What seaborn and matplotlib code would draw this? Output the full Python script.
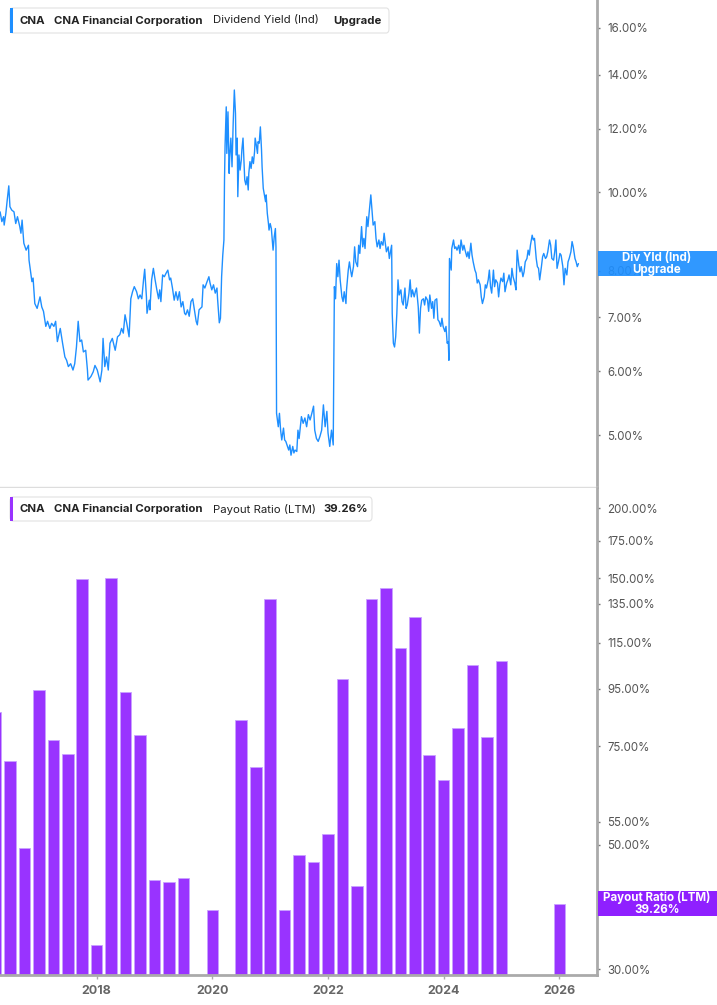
import matplotlib
matplotlib.use("Agg")
import matplotlib.pyplot as plt
from matplotlib.patches import Rectangle, FancyBboxPatch
from matplotlib.ticker import FixedLocator, NullLocator, FuncFormatter
import pandas as pd
import seaborn as sns

# --- data ------------------------------------------------------------------
# dividend yield (%) as (decimal year, value) pairs
yield_2016_2018 = [
    (2016.33, 9.46), (2016.36, 9.20), (2016.39, 9.33), (2016.40, 9.11), (2016.43, 9.43),
    (2016.45, 9.74), (2016.48, 10.19), (2016.50, 9.60), (2016.53, 9.51), (2016.57, 9.46),
    (2016.60, 9.15), (2016.63, 9.33), (2016.67, 9.07), (2016.69, 8.90), (2016.71, 9.24),
    (2016.74, 8.65), (2016.78, 8.48), (2016.82, 8.60), (2016.83, 8.24), (2016.88, 7.75),
    (2016.90, 7.83), (2016.93, 7.28), (2016.97, 7.18), (2017.02, 7.42), (2017.05, 7.21),
    (2017.08, 7.12), (2017.12, 6.82), (2017.15, 6.92), (2017.19, 6.78), (2017.22, 6.88),
    (2017.26, 6.82), (2017.29, 6.92), (2017.32, 6.53), (2017.37, 6.78), (2017.41, 6.50),
    (2017.45, 6.25), (2017.48, 6.19), (2017.51, 6.08), (2017.55, 6.13), (2017.59, 6.02),
    (2017.62, 6.13), (2017.65, 6.43), (2017.68, 6.92), (2017.71, 6.53), (2017.74, 6.56),
    (2017.77, 6.34), (2017.81, 6.37), (2017.84, 6.02), (2017.85, 5.85), (2017.90, 5.91),
    (2017.94, 5.99), (2017.97, 6.10), (2018.01, 6.02), (2018.06, 5.82), (2018.09, 6.02),
    (2018.11, 6.59), (2018.14, 6.08), (2018.17, 6.25), (2018.20, 6.02), (2018.23, 6.50),
    (2018.27, 6.59), (2018.32, 6.37), (2018.36, 6.62), (2018.40, 6.66), (2018.43, 6.78),
    (2018.46, 6.69), (2018.49, 7.05), (2018.52, 6.88), (2018.56, 6.62), (2018.59, 7.38),
    (2018.62, 7.53), (2018.65, 7.64), (2018.69, 7.53), (2018.72, 7.38), (2018.75, 7.46),
    (2018.78, 7.38), (2018.81, 7.79), (2018.83, 8.03), (2018.86, 7.42), (2018.87, 7.08),
    (2018.91, 7.35),
]
yield_2019_2021 = [
    (2018.92, 7.15), (2018.95, 7.79), (2018.98, 8.05), (2019.01, 7.79), (2019.04, 7.57),
    (2019.07, 7.38), (2019.09, 7.57), (2019.11, 7.32), (2019.14, 7.90), (2019.17, 7.86),
    (2019.20, 7.94), (2019.23, 8.01), (2019.26, 7.79), (2019.28, 7.83), (2019.31, 7.61),
    (2019.34, 7.35), (2019.37, 7.53), (2019.40, 7.35), (2019.43, 7.53), (2019.46, 7.21),
    (2019.49, 7.32), (2019.52, 7.08), (2019.54, 7.05), (2019.57, 7.15), (2019.60, 7.02),
    (2019.63, 7.32), (2019.66, 7.38), (2019.69, 7.15), (2019.72, 6.92), (2019.74, 6.85),
    (2019.77, 7.15), (2019.82, 7.21), (2019.84, 7.68), (2019.87, 7.61), (2019.90, 7.72),
    (2019.94, 7.86), (2019.96, 7.72), (2019.99, 7.57), (2020.02, 7.68), (2020.05, 7.50),
    (2020.08, 7.61), (2020.09, 7.38), (2020.12, 6.89), (2020.14, 6.98), (2020.16, 7.86),
    (2020.18, 8.36), (2020.20, 8.73), (2020.21, 10.36), (2020.22, 11.45), (2020.24, 12.77),
    (2020.25, 11.18), (2020.27, 12.59), (2020.29, 10.56), (2020.30, 11.07), (2020.32, 11.68),
    (2020.34, 10.76), (2020.36, 12.18), (2020.38, 13.40), (2020.40, 12.53), (2020.41, 11.13),
    (2020.43, 11.68), (2020.44, 9.88), (2020.46, 11.13), (2020.48, 10.66), (2020.50, 10.97),
    (2020.51, 11.29), (2020.53, 11.68), (2020.55, 10.76), (2020.56, 10.36), (2020.58, 10.22),
    (2020.60, 10.46), (2020.62, 10.07), (2020.63, 10.56), (2020.65, 10.92), (2020.67, 10.71),
    (2020.69, 11.07), (2020.71, 10.86), (2020.73, 11.24), (2020.74, 11.68), (2020.76, 11.45),
    (2020.78, 11.18), (2020.79, 11.56), (2020.81, 11.51), (2020.83, 12.06), (2020.85, 11.29),
    (2020.86, 10.76), (2020.88, 10.12), (2020.90, 9.93), (2020.92, 9.74), (2020.93, 9.93),
    (2020.95, 9.42), (2020.97, 9.15), (2020.98, 8.98), (2021.00, 9.15), (2021.02, 9.02),
    (2021.04, 8.65), (2021.05, 8.48), (2021.07, 8.81), (2021.09, 9.02), (2021.10, 8.56),
    (2021.11, 5.32), (2021.14, 5.12), (2021.16, 5.32), (2021.18, 5.07), (2021.20, 4.93),
    (2021.23, 5.10), (2021.25, 4.93), (2021.27, 4.91), (2021.30, 4.84), (2021.32, 4.79),
    (2021.34, 4.86), (2021.36, 4.72), (2021.39, 4.84), (2021.41, 4.75), (2021.43, 4.79),
    (2021.46, 4.77), (2021.48, 5.07), (2021.50, 4.95),
]
yield_2021_2024 = [
    (2021.54, 5.27), (2021.57, 5.17), (2021.60, 5.25), (2021.63, 5.12), (2021.66, 5.30),
    (2021.69, 5.22), (2021.72, 5.32), (2021.75, 5.43), (2021.77, 5.07), (2021.80, 4.95),
    (2021.83, 4.91), (2021.86, 4.98), (2021.89, 5.07), (2021.92, 5.45), (2021.95, 5.12),
    (2021.98, 5.35), (2022.00, 5.03), (2022.03, 4.84), (2022.06, 5.07), (2022.09, 4.86),
    (2022.11, 7.64), (2022.13, 7.38), (2022.15, 8.16), (2022.17, 7.86), (2022.19, 8.24),
    (2022.21, 7.79), (2022.24, 7.42), (2022.26, 7.32), (2022.28, 7.53), (2022.31, 7.28),
    (2022.32, 7.57), (2022.35, 8.01), (2022.37, 8.20), (2022.39, 8.01), (2022.41, 7.86),
    (2022.44, 8.09), (2022.46, 8.56), (2022.48, 8.20), (2022.51, 8.09), (2022.53, 8.60),
    (2022.55, 8.40), (2022.58, 9.07), (2022.60, 8.56), (2022.62, 8.77), (2022.64, 8.52),
    (2022.67, 9.33), (2022.69, 9.07), (2022.71, 9.42), (2022.74, 9.93), (2022.76, 9.51),
    (2022.78, 9.11), (2022.81, 9.20), (2022.83, 8.77), (2022.85, 8.56), (2022.88, 8.73),
    (2022.90, 8.52), (2022.92, 8.69), (2022.95, 8.60), (2022.97, 8.90), (2022.99, 8.65),
    (2023.01, 8.44), (2023.04, 8.56), (2023.06, 8.28), (2023.08, 8.44), (2023.10, 8.60),
    (2023.11, 7.08), (2023.13, 6.50), (2023.15, 6.43), (2023.17, 6.62), (2023.19, 7.08),
    (2023.21, 7.79), (2023.23, 7.46), (2023.26, 7.57), (2023.28, 7.32), (2023.30, 7.25),
    (2023.33, 7.61), (2023.35, 7.18), (2023.37, 7.25), (2023.40, 7.50), (2023.42, 7.79),
    (2023.44, 7.42), (2023.46, 7.57), (2023.49, 7.42), (2023.51, 7.53), (2023.53, 7.61),
    (2023.56, 7.21), (2023.58, 6.69), (2023.60, 7.18), (2023.62, 7.35), (2023.65, 7.38),
    (2023.67, 7.25), (2023.69, 7.42), (2023.72, 7.35), (2023.74, 7.12), (2023.76, 7.46),
    (2023.79, 7.18), (2023.81, 7.32), (2023.83, 6.98), (2023.85, 7.35), (2023.88, 7.38),
    (2023.90, 6.95), (2023.92, 6.92), (2023.95, 6.82), (2023.97, 6.98), (2023.99, 6.82),
    (2024.02, 6.72), (2024.04, 6.82), (2024.06, 6.50), (2024.08, 6.53), (2024.09, 6.19),
    (2024.10, 8.28),
]
yield_2024_2026 = [
    (2024.13, 8.01), (2024.14, 8.52), (2024.17, 8.73), (2024.19, 8.52), (2024.21, 8.56),
    (2024.23, 8.48), (2024.26, 8.60), (2024.28, 8.40), (2024.30, 8.73), (2024.33, 8.48),
    (2024.35, 8.60), (2024.37, 8.48), (2024.40, 8.32), (2024.42, 8.44), (2024.44, 8.28),
    (2024.47, 8.65), (2024.49, 8.36), (2024.51, 8.20), (2024.54, 8.01), (2024.56, 7.94),
    (2024.58, 7.72), (2024.60, 7.79), (2024.63, 7.68), (2024.65, 7.42), (2024.67, 7.28),
    (2024.70, 7.42), (2024.72, 7.68), (2024.74, 7.61), (2024.77, 7.79), (2024.79, 8.01),
    (2024.81, 7.64), (2024.83, 7.50), (2024.86, 8.01), (2024.88, 7.64), (2024.90, 7.79),
    (2024.93, 7.72), (2024.95, 7.42), (2024.97, 7.68), (2024.99, 7.83), (2025.02, 7.75),
    (2025.04, 7.94), (2025.06, 7.53), (2025.09, 7.72), (2025.11, 7.79), (2025.13, 7.90),
    (2025.16, 7.68), (2025.18, 8.05), (2025.20, 7.86), (2025.23, 7.72), (2025.25, 7.57),
    (2025.27, 8.48), (2025.30, 8.12), (2025.32, 7.97), (2025.34, 8.09), (2025.37, 7.86),
    (2025.39, 7.97), (2025.41, 8.20), (2025.44, 8.28), (2025.46, 8.48), (2025.48, 8.36),
    (2025.50, 8.60), (2025.53, 8.85), (2025.55, 8.73), (2025.57, 8.77), (2025.60, 8.28),
    (2025.62, 8.09), (2025.64, 8.05), (2025.66, 7.79), (2025.69, 8.09), (2025.71, 8.32),
    (2025.73, 8.40), (2025.76, 8.28), (2025.78, 8.32), (2025.80, 8.44), (2025.83, 8.73),
    (2025.85, 8.60), (2025.87, 8.28), (2025.90, 8.24), (2025.92, 8.44), (2025.94, 8.73),
    (2025.96, 8.05), (2025.99, 8.24), (2026.01, 8.40), (2026.03, 8.36), (2026.06, 8.09),
    (2026.08, 7.68), (2026.10, 8.05), (2026.13, 7.90), (2026.15, 8.20), (2026.17, 8.28),
    (2026.20, 8.44), (2026.22, 8.69), (2026.24, 8.56), (2026.27, 8.28), (2026.29, 8.20),
    (2026.31, 8.09), (2026.33, 8.16),
]

# payout ratio (LTM, %) by quarter (decimal year); quarters with no bar are left out
payout_quarter = [
    2016.25, 2016.50, 2016.75, 2017.00, 2017.25, 2017.50, 2017.75, 2018.00, 2018.25,
    2018.50, 2018.75, 2019.00, 2019.25, 2019.50, 2020.00, 2020.50, 2020.75, 2021.00,
    2021.25, 2021.50, 2021.75, 2022.00, 2022.25, 2022.50, 2022.75, 2023.00, 2023.25,
    2023.50, 2023.75, 2024.00, 2024.25, 2024.50, 2024.75, 2025.00, 2026.00,
]
payout_ratio = [
    86.4, 70.6, 49.4, 94.6, 77.0, 72.7, 149.3, 33.1, 150.0,
    93.8, 78.6, 43.3, 42.9, 43.6, 38.2, 83.6, 68.9, 137.5,
    38.2, 48.0, 46.6, 52.3, 98.9, 42.2, 137.5, 143.9, 112.4,
    127.7, 72.4, 65.3, 80.9, 104.8, 77.9, 106.6, 39.26,
]

yield_ticks = [5, 6, 7, 8, 10, 12, 14, 16]
payout_ticks = [30, 50, 55, 75, 95, 115, 135, 150, 175, 200]
year_ticks = [2018, 2020, 2022, 2024, 2026]
last_yield = 8.16
last_payout = 39.26

BLUE = "#1e8fff"
PURPLE = "#9933ff"
PURPLE_TAG = "#8f20ff"
W, H = 717, 1005

sns.set_style("white")
plt.rcParams["font.family"] = ["Inter", "DejaVu Sans"]

yield_df = pd.DataFrame(yield_2016_2018 + yield_2019_2021 + yield_2021_2024 + yield_2024_2026,
                        columns=["year", "yield"])
payout_df = pd.DataFrame({"quarter": payout_quarter, "ratio": payout_ratio})


def px_rect(x0, y0, x1, y1):
    return [x0 / W, 1 - y1 / H, (x1 - x0) / W, (y1 - y0) / H]


fig = plt.figure(figsize=(W / 100, H / 100), dpi=100)
ax_top = fig.add_axes(px_rect(0, 0, 597, 487))
ax_bot = fig.add_axes(px_rect(0, 488, 597, 975))

sns.lineplot(data=yield_df, x="year", y="yield", ax=ax_top, color=BLUE,
             linewidth=1.0, estimator=None, sort=True)
sns.barplot(data=payout_df, x="quarter", y="ratio", ax=ax_bot, native_scale=True,
            color=PURPLE, saturation=1, errorbar=None, edgecolor="#c9a2ff", linewidth=0.6)

pct = FuncFormatter(lambda v, _: f"{v:.2f}%")
for ax, ticks, lims in [(ax_top, yield_ticks, (4.31, 17.33)),
                        (ax_bot, payout_ticks, (29.27, 217.3))]:
    ax.set_yscale("log")
    ax.set_ylim(*lims)
    ax.set_xlim(2016.328, 2026.651)
    ax.yaxis.set_major_locator(FixedLocator(ticks))
    ax.yaxis.set_minor_locator(NullLocator())
    ax.yaxis.set_major_formatter(pct)
    ax.yaxis.tick_right()
    ax.tick_params(axis="y", which="major", right=True, left=False, length=2.5, width=1,
                   color="#777777", labelcolor="#555555", labelsize=8.3, pad=5)
    ax.set_xlabel("")
    ax.set_ylabel("")
    ax.spines["top"].set_visible(False)
    ax.spines["left"].set_visible(False)
    ax.spines["right"].set_color("#aaaaaa")
    ax.spines["right"].set_linewidth(2)
    ax.set_facecolor("white")

ax_top.spines["bottom"].set_color("#dddddd")
ax_top.spines["bottom"].set_linewidth(1)
ax_top.tick_params(axis="x", bottom=False, labelbottom=False)

ax_bot.spines["bottom"].set_color("#aaaaaa")
ax_bot.spines["bottom"].set_linewidth(2)
ax_bot.xaxis.set_major_locator(FixedLocator(year_ticks))
ax_bot.xaxis.set_minor_locator(NullLocator())
ax_bot.xaxis.set_major_formatter(FuncFormatter(lambda v, _: f"{int(round(v))}"))
ax_bot.tick_params(axis="x", bottom=True, length=3, width=1, color="#aaaaaa",
                   labelcolor="#666666", labelsize=9, pad=4)
for lbl in ax_bot.get_xticklabels():
    lbl.set_fontweight("bold")


def legend_box(y0, y1, x1, color, parts):
    fig.add_artist(FancyBboxPatch((10 / W, 1 - y1 / H), (x1 - 10) / W, (y1 - y0) / H,
                                  boxstyle="round,pad=0,rounding_size=0.004",
                                  transform=fig.transFigure, facecolor="white",
                                  edgecolor="#e2e2e2", linewidth=0.8, zorder=5))
    fig.add_artist(Rectangle((10 / W, 1 - y1 / H), 3 / W, (y1 - y0) / H,
                             transform=fig.transFigure, facecolor=color,
                             edgecolor="none", zorder=6))
    ymid = 1 - (y0 + y1) / 2 / H
    for x, txt, weight in parts:
        fig.text(x / W, ymid, txt, ha="left", va="center", fontsize=8.2,
                 fontweight=weight, color="#222222", zorder=7)


legend_box(8, 33, 389, BLUE, [(20, "CNA", "bold"),
                              (54, "CNA Financial Corporation", "bold"),
                              (213, "Dividend Yield (Ind)", "normal"),
                              (333, "Upgrade", "bold")])
legend_box(497, 521, 372, PURPLE, [(20, "CNA", "bold"),
                                   (54, "CNA Financial Corporation", "bold"),
                                   (213, "Payout Ratio (LTM)", "normal"),
                                   (323, f"{last_payout:.2f}%", "bold")])


def side_tag(ax, value, color, lines, alpha=1.0):
    y_px = ax.transData.transform((ax.get_xlim()[0], value))[1]
    fig.add_artist(Rectangle((598 / W, (y_px - 12.5) / H), (W - 598) / W, 25 / H,
                             transform=fig.transFigure, facecolor=color, alpha=alpha,
                             edgecolor="none", zorder=5))
    for i, txt in enumerate(lines):
        fig.text(657 / W, (y_px + 6 - 12 * i) / H, txt, ha="center", va="center",
                 fontsize=8.3, fontweight="bold", color="white", zorder=6)


side_tag(ax_top, last_yield, BLUE, ["Div Yld (Ind)", "Upgrade"], alpha=0.92)
side_tag(ax_bot, last_payout, PURPLE_TAG, ["Payout Ratio (LTM)", f"{last_payout:.2f}%"])

fig.savefig("out.png", dpi=100, facecolor="white")
